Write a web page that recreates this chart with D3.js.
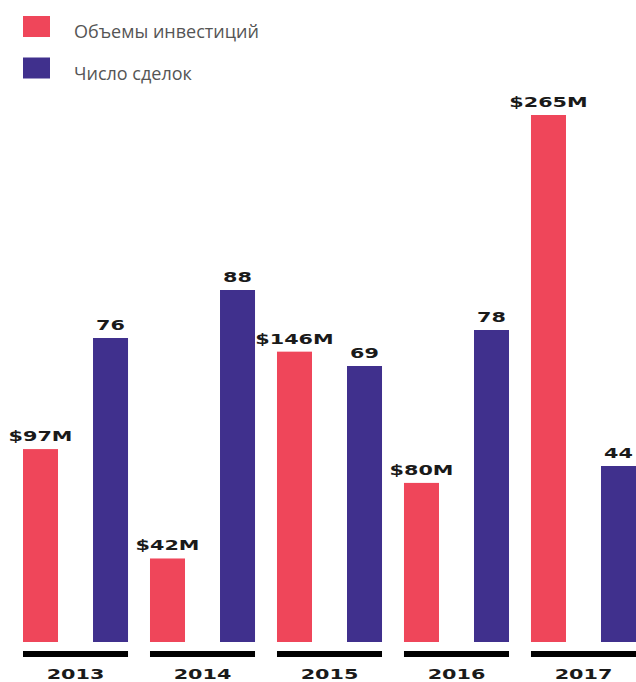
<!DOCTYPE html>
<html>
<head>
<meta charset="utf-8">
<script src="https://cdn.jsdelivr.net/npm/d3@7"></script>
<style>
  body { margin: 0; background: #fff; }
</style>
</head>
<body>
<script>
// данные
const years = ["2013", "2014", "2015", "2016", "2017"];
const investments = [97, 42, 146, 80, 265];   // $M
const deals = [76, 88, 69, 78, 44];
const seriesNames = ["Объемы инвестиций", "Число сделок"];
const colors = ["#EF465A", "#40308D"];

const width = 636;
const height = 682;
const baseline = 642;

const svg = d3.select("body")
    .append("svg")
    .attr("width", width)
    .attr("height", height);

// шкалы
const xScale = d3.scaleBand()
    .domain(years)
    .range([23, 636])
    .paddingInner(0.173)
    .paddingOuter(0);

const subScale = d3.scaleBand()
    .domain(["inv", "deals"])
    .range([0, xScale.bandwidth()])
    .paddingInner(0.5)
    .paddingOuter(0);

const yInv = d3.scaleLinear().domain([0, 265]).range([baseline, 115]);
const yDeals = d3.scaleLinear().domain([0, 88]).range([baseline, 290]);

// растянутый шрифт подписей
function stretch(sel, k) {
    sel.each(function () {
        const len = this.getComputedTextLength();
        d3.select(this).attr("textLength", len * k).attr("lengthAdjust", "spacingAndGlyphs");
    });
}

// легенда
const legend = svg.append("g");
seriesNames.forEach((name, i) => {
    legend.append("rect")
        .attr("x", 23).attr("y", 16 + i * 41.5)
        .attr("width", 27).attr("height", 21)
        .attr("fill", colors[i]);
    legend.append("text")
        .attr("x", 74).attr("y", 38 + i * 41.5)
        .attr("font-family", "'Open Sans', sans-serif")
        .attr("font-size", 18)
        .attr("fill", "#555")
        .text(name);
});

const groups = svg.selectAll("g.year")
    .data(years)
    .join("g")
    .attr("class", "year")
    .attr("transform", d => `translate(${xScale(d)},0)`);

// столбцы
groups.append("rect")
    .attr("x", subScale("inv"))
    .attr("width", subScale.bandwidth())
    .attr("y", (d, i) => yInv(investments[i]))
    .attr("height", (d, i) => baseline - yInv(investments[i]))
    .attr("fill", colors[0]);

groups.append("rect")
    .attr("x", subScale("deals"))
    .attr("width", subScale.bandwidth())
    .attr("y", (d, i) => yDeals(deals[i]))
    .attr("height", (d, i) => baseline - yDeals(deals[i]))
    .attr("fill", colors[1]);

const labelFont = "'DejaVu Sans', sans-serif";
const labelSize = 14;
const labelStretch = 1.48;

// подписи значений
groups.append("text")
    .attr("x", subScale("inv") + subScale.bandwidth() / 2)
    .attr("y", (d, i) => yInv(investments[i]) - 8)
    .attr("text-anchor", "middle")
    .attr("font-family", labelFont)
    .attr("font-weight", "bold")
    .attr("font-size", labelSize)
    .attr("fill", "#1a1a1a")
    .text((d, i) => `$${investments[i]}M`)
    .call(stretch, labelStretch);

groups.append("text")
    .attr("x", subScale("deals") + subScale.bandwidth() / 2)
    .attr("y", (d, i) => yDeals(deals[i]) - 8)
    .attr("text-anchor", "middle")
    .attr("font-family", labelFont)
    .attr("font-weight", "bold")
    .attr("font-size", labelSize)
    .attr("fill", "#1a1a1a")
    .text((d, i) => deals[i])
    .call(stretch, labelStretch);

// ось
groups.append("rect")
    .attr("x", 0)
    .attr("y", 651)
    .attr("width", xScale.bandwidth())
    .attr("height", 6)
    .attr("fill", "#000");

groups.append("text")
    .attr("x", xScale.bandwidth() / 2)
    .attr("y", 679)
    .attr("text-anchor", "middle")
    .attr("font-family", labelFont)
    .attr("font-weight", "bold")
    .attr("font-size", labelSize)
    .attr("fill", "#1a1a1a")
    .text(d => d)
    .call(stretch, labelStretch);
</script>
</body>
</html>
